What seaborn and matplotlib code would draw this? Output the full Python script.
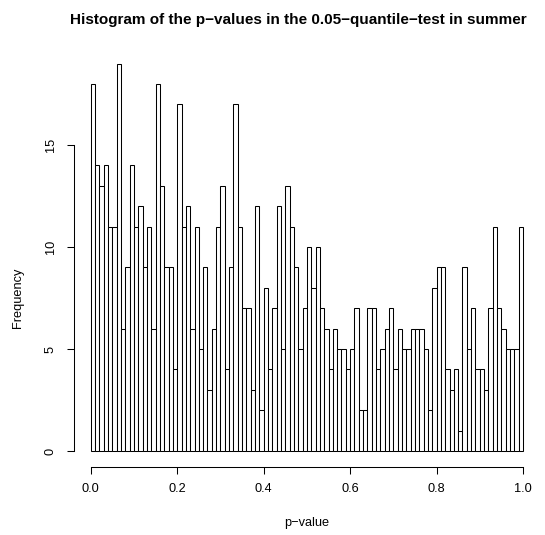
import numpy as np
import pandas as pd
import matplotlib
matplotlib.use("Agg")
import matplotlib.pyplot as plt
import seaborn as sns

# bin edges of the p-value histogram (100 bins on [0, 1])
bin_edges = np.linspace(0, 1, 101)

# counts, one per bin
counts = [
    18, 14, 13, 14, 11, 11, 19, 6, 9, 14, 11, 12, 9, 11, 6, 18,
    13, 9, 9, 4, 17, 11, 12, 6, 11, 5, 9, 3, 6, 11, 13, 4, 9, 17, 11, 7, 7,
    3, 12, 2, 8, 4, 7, 12, 5, 13, 11, 9, 5, 7, 10, 8, 10, 7, 6, 4, 6, 5,
    5, 4, 5, 7, 2, 2, 7, 7, 4, 5, 6, 7, 4, 6, 5, 5, 6, 6, 6, 5, 2,
    8, 9, 9, 4, 3, 4, 1, 9, 5, 7, 4, 4, 3, 7, 11, 7, 6, 5, 5, 5, 11,
]
x_ticks = [0.0, 0.2, 0.4, 0.6, 0.8, 1.0]
y_ticks = [0, 5, 10, 15]

df = pd.DataFrame({
    "p": (bin_edges[:-1] + bin_edges[1:]) / 2,
    "n": counts,
})

sns.set_style("white")
plt.rcParams["font.family"] = ["Liberation Sans", "DejaVu Sans"]
plt.rcParams["text.color"] = "black"
plt.rcParams["xtick.color"] = "black"
plt.rcParams["ytick.color"] = "black"

fig = plt.figure(figsize=(5.45, 5.35), dpi=100)
ax = fig.add_axes([73.5 / 545, 68.5 / 535, (540.3 - 73.5) / 545, (487 - 68.5) / 535])

sns.histplot(
    data=df,
    x="p",
    weights="n",
    bins=len(counts),
    binrange=(0, 1),
    color="white",
    edgecolor="black",
    linewidth=0.75,
    alpha=1,
    ax=ax,
)

ax.set_xlim(-0.04, 1.04)
ax.set_ylim(-0.76, 19.76)
ax.set_xticks(x_ticks)
ax.set_xticklabels(["0.0", "0.2", "0.4", "0.6", "0.8", "1.0"])
ax.set_yticks(y_ticks)
ax.set_yticklabels([str(v) for v in y_ticks], rotation=90, va="center")
ax.set_xlabel("")
ax.set_ylabel("")

for side in ["top", "right"]:
    ax.spines[side].set_visible(False)
ax.spines["left"].set_bounds(0, 15)
ax.spines["bottom"].set_bounds(0, 1)
for side in ["left", "bottom"]:
    ax.spines[side].set_color("black")
    ax.spines[side].set_linewidth(0.75)

ax.tick_params(axis="both", direction="out", length=5, width=0.75,
               color="black", labelcolor="black", labelsize=9.2, pad=7, bottom=True, left=True)

fig.text(298.5 / 545, 1 - 20 / 535, "Histogram of the p\u2212values in the 0.05\u2212quantile\u2212test in summer",
         ha="center", va="center", fontsize=11, fontweight="bold")
fig.text(307 / 545, 1 - 523 / 535, "p\u2212value", ha="center", va="center", fontsize=9.2)
fig.text(18 / 545, 1 - 298 / 535, "Frequency", ha="center", va="center", fontsize=9.2, rotation=90)

fig.savefig("out.png", dpi=100)
